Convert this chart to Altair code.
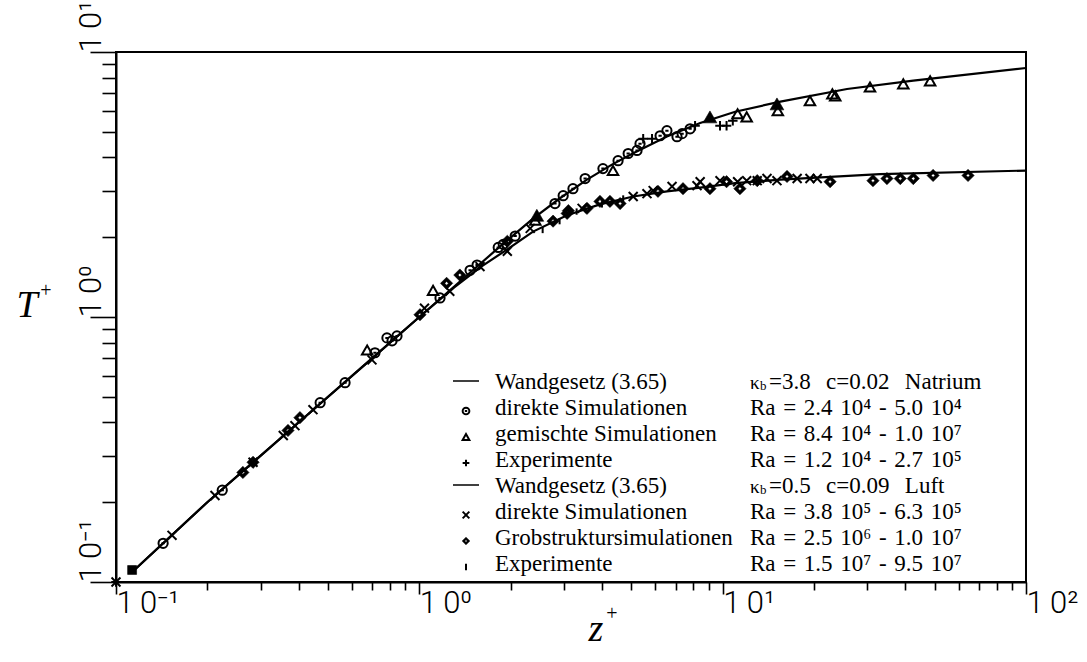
import altair as alt
import pandas as pd

# ---------------- Wandgesetz (3.65): T+ over z+ ----------------
natrium_wall_z = [0.114, 0.2, 0.4, 0.7, 1.0, 1.44, 1.85, 2.37, 2.9, 3.57, 4.3, 5.07, 6.55, 8.43, 11.0, 15.5, 25.7, 42.5, 100.0]
natrium_wall_T = [0.11, 0.2, 0.4, 0.7, 1.0, 1.44, 1.85, 2.35, 2.8, 3.3, 3.75, 4.15, 4.8, 5.4, 5.95, 6.5, 7.25, 7.8, 8.7]
luft_wall_z = [0.114, 0.2, 0.4, 0.7, 1.0, 1.3, 1.6, 1.95, 2.37, 3.07, 3.94, 5.07, 6.55, 8.43, 11.0, 15.5, 33.0, 100.0]
luft_wall_T = [0.11, 0.2, 0.4, 0.7, 1.0, 1.29, 1.55, 1.8, 2.1, 2.42, 2.66, 2.85, 2.98, 3.08, 3.2, 3.3, 3.46, 3.57]

# ---------------- Natrium ----------------
na_direct_z = [0.143, 0.224, 0.471, 0.569, 0.714, 0.782, 0.813, 0.844, 1.17, 1.47, 1.55, 1.82, 1.89, 2.07,
               2.80, 2.98, 3.21, 3.52, 4.03, 4.52, 4.88, 5.22, 5.34, 6.22, 6.55, 7.07, 7.35, 7.81]
na_direct_T = [0.140, 0.222, 0.475, 0.565, 0.733, 0.834, 0.813, 0.848, 1.18, 1.50, 1.57, 1.83, 1.88, 2.02,
               2.68, 2.87, 3.05, 3.33, 3.63, 3.89, 4.14, 4.25, 4.51, 4.83, 5.05, 4.79, 4.92, 5.13]
na_mixed_z = [0.673, 1.11, 2.41, 4.35, 11.2, 12.0, 15.2, 19.4, 23.0, 23.5, 30.6, 39.4, 48.3]
na_mixed_T = [0.751, 1.26, 2.32, 3.57, 5.85, 5.69, 6.0, 6.55, 6.95, 6.83, 7.38, 7.58, 7.78]
na_mixed_solid_z = [2.44, 9.08, 15.1]
na_mixed_solid_T = [2.42, 5.69, 6.37]
na_exp_z = [0.1, 5.47, 5.85, 8.11, 9.8, 10.3, 10.8]
na_exp_T = [0.1, 4.71, 4.71, 5.27, 5.27, 5.27, 5.5]
start_z = [0.113]
start_T = [0.111]

# ---------------- Luft ----------------
air_direct_z = [0.1, 0.153, 0.212, 0.283, 0.356, 0.389, 0.446, 0.698, 1.04, 1.26, 1.585, 1.95, 2.32, 3.44,
                5.07, 5.63, 5.9, 6.81, 8.23, 8.43, 9.8, 11.2, 12.0, 13.0, 14.0, 15.1, 17.6, 19.4, 20.5]
air_direct_T = [0.1, 0.150, 0.212, 0.283, 0.357, 0.389, 0.447, 0.689, 1.08, 1.25, 1.55, 1.77, 2.16, 2.57,
                2.85, 2.92, 3.0, 3.11, 3.13, 3.24, 3.27, 3.24, 3.27, 3.27, 3.33, 3.27, 3.33, 3.33, 3.33]
air_les_z = [0.262, 0.283, 0.369, 0.404, 1.005, 1.23, 1.36, 1.95, 2.76, 3.07, 3.1, 3.57, 3.94, 4.25,
             4.59, 6.12, 7.4, 9.08, 10.3, 11.4, 13.0, 16.3, 22.6, 31.3, 34.8, 38.5, 42.5, 49.4, 64.4]
air_les_T = [0.259, 0.283, 0.373, 0.417, 1.02, 1.34, 1.44, 1.93, 2.30, 2.46, 2.52, 2.57, 2.73, 2.73,
             2.68, 2.98, 3.05, 3.05, 3.24, 3.05, 3.27, 3.39, 3.24, 3.27, 3.33, 3.33, 3.33, 3.42, 3.42]
air_exp_z = [2.55, 2.9, 3.3, 4.0, 4.7]
air_exp_T = [2.13, 2.3, 2.5, 2.66, 2.8]

# ---------------- axes ----------------
x_ticks = [0.1, 0.2, 0.3, 0.4, 0.5, 0.6, 0.7, 0.8, 0.9,
           1, 2, 3, 4, 5, 6, 7, 8, 9,
           10, 20, 30, 40, 50, 60, 70, 80, 90, 100]
y_ticks = [0.1, 0.2, 0.3, 0.4, 0.5, 0.6, 0.7, 0.8, 0.9,
           1, 2, 3, 4, 5, 6, 7, 8, 9, 10]
decade_values = [0.1, 1, 10, 100]
decade_labels = ["1\u20090\u207b\u00b9", "1\u20090\u2070", "1\u20090\u00b9", "1\u20090\u00b2"]

# ---------------- legend ----------------
legend_names = ["Wandgesetz (3.65)", "direkte Simulationen", "gemischte Simulationen", "Experimente",
                "Wandgesetz (3.65)", "direkte Simulationen", "Grobstruktursimulationen", "Experimente"]
legend_params = ["=3.8  c=0.02  Natrium",
                 "Ra = 2.4 10\u2074 - 5.0 10\u2074",
                 "Ra = 8.4 10\u2074 - 1.0 10\u2077",
                 "Ra = 1.2 10\u2074 - 2.7 10\u2075",
                 "=0.5  c=0.09  Luft",
                 "Ra = 3.8 10\u2075 - 6.3 10\u2075",
                 "Ra = 2.5 10\u2076 - 1.0 10\u2077",
                 "Ra = 1.5 10\u2077 - 9.5 10\u2077"]

# marker glyphs (unit-square SVG paths)
CIRCLE_DOT = "M-1,0A1,1,0,1,1,1,0A1,1,0,1,1,-1,0Z M-0.35,0L0.35,0"
PLUS = "M-1,0L1,0M0,-1L0,1"
CROSS = "M-1,-1L1,1M-1,1L1,-1"
DIAMOND_HOLE = "M0,-1L1,0L0,1L-1,0Z M0,-0.3L-0.3,0L0,0.3L0.3,0Z"
TICK = "M0,-1L0,1"

W, H = 910, 530
SERIF = "Liberation Serif"
NUM_FONT = "Roboto"
NUM_SIZE = 31

major_test = "abs(log(datum.value)/LN10 - round(log(datum.value)/LN10)) < 1e-6"
label_expr = " : ".join(
    f"datum.value == {v} ? '{t}'" for v, t in zip(decade_values, decade_labels)
) + " : ''"

x_scale = alt.Scale(type="log", domain=[0.1, 100], nice=False)
y_scale = alt.Scale(type="log", domain=[0.1, 10], nice=False)

x_axis = alt.Axis(
    values=x_ticks, title=None, grid=False, orient="bottom",
    domainColor="black", domainWidth=2, tickColor="black", tickWidth=1.6,
    tickSize={"condition": {"test": major_test, "value": 12}, "value": 8},
    labelExpr=label_expr, labelFont=NUM_FONT, labelFontWeight=300, labelFontSize=NUM_SIZE,
    labelColor="black", labelAlign="left", labelBaseline="top", labelPadding=-6,
    labelOverlap=False, labelFlush=False, labelBound=False,
)
y_axis = alt.Axis(
    values=y_ticks, title=None, grid=False, orient="left",
    domainColor="black", domainWidth=2, tickColor="black", tickWidth=1.6,
    tickSize={"condition": {"test": major_test, "value": 26}, "value": 14},
    labelExpr=label_expr, labelFont=NUM_FONT, labelFontWeight=300, labelFontSize=NUM_SIZE,
    labelColor="black", labelAngle=270, labelAlign="left", labelBaseline="alphabetic",
    labelPadding=-10, labelOverlap=False, labelFlush=False, labelBound=False,
)


def xy(z, t):
    return pd.DataFrame({"z": z, "T": t})


def enc():
    return dict(
        x=alt.X("z:Q", scale=x_scale, axis=x_axis),
        y=alt.Y("T:Q", scale=y_scale, axis=y_axis),
    )


def wall(z, t):
    return alt.Chart(xy(z, t)).mark_line(color="black", strokeWidth=2.2).encode(
        order="z:Q", **enc())


def points(z, t, shape, size, filled=False, sw=2):
    if filled:
        style = dict(filled=True, fill="black", stroke="black", strokeWidth=0.6)
    else:
        style = dict(filled=False, stroke="black", strokeWidth=sw)
    return alt.Chart(xy(z, t)).mark_point(shape=shape, size=size, opacity=1, **style).encode(**enc())


layers = [
    wall(natrium_wall_z, natrium_wall_T),
    wall(luft_wall_z, luft_wall_T),
    points(na_direct_z, na_direct_T, CIRCLE_DOT, 85),
    points(na_mixed_z, na_mixed_T, "triangle-up", 110),
    points(na_mixed_solid_z, na_mixed_solid_T, "triangle-up", 190, filled=True),
    points(na_exp_z, na_exp_T, PLUS, 90),
    points(air_direct_z, air_direct_T, CROSS, 80),
    points(air_les_z, air_les_T, DIAMOND_HOLE, 150, filled=True),
    points(air_exp_z, air_exp_T, TICK, 40),
    points(start_z, start_T, "square", 80, filled=True),
]

# ---------------- legend block ----------------
ROW0, ROW_STEP = 330, 26
SYM_X, NAME_X, PARAM_X = 350, 379, 634
LEG_SIZE = 23
WIDE = "\u2004"  # three-per-em space, keeps the typeset spacing

legend_df = pd.DataFrame({
    "name": legend_names,
    "param": [p.replace(" ", WIDE) for p in legend_params],
    "row": list(range(len(legend_names))),
    "kappa": [1, 0, 0, 0, 1, 0, 0, 0],
})
row_y = f"{ROW0} + {ROW_STEP} * datum.row"

names = alt.Chart(legend_df).transform_calculate(py=row_y).mark_text(
    font=SERIF, fontSize=LEG_SIZE, align="left", baseline="middle", color="black"
).encode(x=alt.value(NAME_X), y=alt.Y("py:Q", scale=None, axis=None), text="name:N")

params = alt.Chart(legend_df).transform_calculate(
    py=row_y, px=f"{PARAM_X} + datum.kappa * 19"
).mark_text(
    font=SERIF, fontSize=LEG_SIZE, align="left", baseline="middle", color="black"
).encode(x=alt.X("px:Q", scale=None, axis=None), y=alt.Y("py:Q", scale=None, axis=None),
         text="param:N")

kappa_df = legend_df[legend_df["kappa"] == 1]
kappa = alt.Chart(kappa_df).transform_calculate(py=f"{row_y} + 1").mark_text(
    font=SERIF, fontSize=19, align="left", baseline="middle", color="black"
).encode(x=alt.value(PARAM_X), y=alt.Y("py:Q", scale=None, axis=None), text=alt.value("\u03ba"))
kappa_sub = alt.Chart(kappa_df).transform_calculate(py=f"{row_y} + 4").mark_text(
    font=SERIF, fontSize=13, align="left", baseline="middle", color="black"
).encode(x=alt.value(PARAM_X + 10), y=alt.Y("py:Q", scale=None, axis=None), text=alt.value("b"))

legend_layers = [names, params, kappa, kappa_sub]

sym_rows = [
    ("line", 0), (CIRCLE_DOT, 1), ("triangle-up", 2), (PLUS, 3),
    ("line", 4), (CROSS, 5), (DIAMOND_HOLE, 6), (TICK, 7),
]
sym_df = pd.DataFrame({"k": [0]})
for shape, r in sym_rows:
    yy = ROW0 + ROW_STEP * r
    if shape == "line":
        legend_layers.append(
            alt.Chart(sym_df).mark_rule(color="black", strokeWidth=1.5).encode(
                x=alt.value(SYM_X - 13), x2=alt.value(SYM_X + 13), y=alt.value(yy - 1)))
    elif shape == DIAMOND_HOLE:
        legend_layers.append(
            alt.Chart(sym_df).mark_point(
                shape=shape, size=60, filled=True, fill="black", stroke="black",
                strokeWidth=0.5, opacity=1,
            ).encode(x=alt.value(SYM_X), y=alt.value(yy + 3)))
    else:
        legend_layers.append(
            alt.Chart(sym_df).mark_point(
                shape=shape, size=45, filled=False, stroke="black",
                strokeWidth=2, opacity=1,
            ).encode(x=alt.value(SYM_X), y=alt.value(yy + 3)))

# ---------------- axis titles ----------------
title_df = pd.DataFrame({"k": [0]})
t_title = alt.Chart(title_df).mark_text(
    font=SERIF, fontSize=38, fontStyle="italic", align="center", baseline="middle", color="black"
).encode(x=alt.value(-89), y=alt.value(254), text=alt.value("T"))
t_plus = alt.Chart(title_df).mark_text(
    font=SERIF, fontSize=20, align="center", baseline="middle", color="black"
).encode(x=alt.value(-70), y=alt.value(239), text=alt.value("+"))
z_title = alt.Chart(title_df).mark_text(
    font=SERIF, fontSize=38, fontStyle="italic", align="center", baseline="middle", color="black"
).encode(x=alt.value(480), y=alt.value(578), text=alt.value("z"))
z_plus = alt.Chart(title_df).mark_text(
    font=SERIF, fontSize=20, align="center", baseline="middle", color="black"
).encode(x=alt.value(496), y=alt.value(562), text=alt.value("+"))

chart = alt.layer(*layers, *legend_layers, t_title, t_plus, z_title, z_plus).properties(
    width=W, height=H,
    autosize=alt.AutoSizeParams(type="none"),
    padding={"left": 116, "top": 52, "right": 61, "bottom": 80},
    background="white",
).configure_view(stroke="black", strokeWidth=2)

chart.save("out.html", embed_options={"renderer": "svg", "actions": False})
